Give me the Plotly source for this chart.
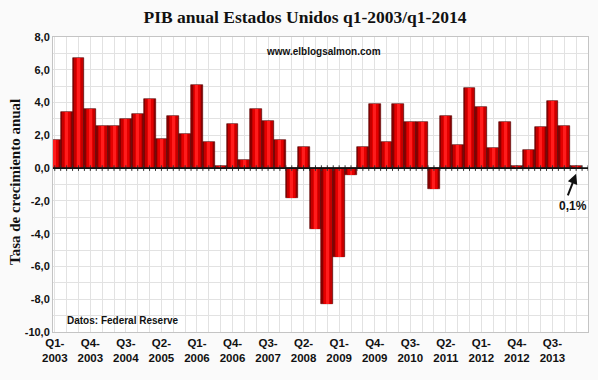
import plotly.graph_objects as go

quarters = [f"Q{q}-{y}" for y in range(2003, 2015) for q in range(1, 5)][:45]
gdp = [1.7, 3.4, 6.7, 3.6, 2.6, 2.6, 3.0, 3.3, 4.2, 1.8, 3.2, 2.1,
       5.1, 1.6, 0.1, 2.7, 0.5, 3.6, 2.9, 1.7, -1.8, 1.3, -3.7, -8.3,
       -5.4, -0.4, 1.3, 3.9, 1.6, 3.9, 2.8, 2.8, -1.3, 3.2, 1.4, 4.9,
       3.7, 1.2, 2.8, 0.1, 1.1, 2.5, 4.1, 2.6, 0.1]
label_idx = list(range(0, 45, 3))
tick_text = ["<b>" + quarters[i].replace("-", "-<br>") + "</b>" for i in label_idx]
y_ticks = list(range(-10, 9, 2))
y_text = [f"<b>{v:.1f}</b>".replace(".", ",") for v in y_ticks]

x = list(range(len(gdp)))

W, H = 598, 380
ML, MR, MT, MB = 53, 10, 37, 48

fig = go.Figure()
# small tick marks along zero axis
half = [i / 2 - 0.5 for i in range(0, 2 * len(gdp) + 2)]
fig.add_trace(go.Scatter(x=half, y=[0] * len(half), mode="markers",
                         marker=dict(symbol="line-ns", size=4,
                                     line=dict(color="#333", width=1)),
                         hoverinfo="skip", showlegend=False))
# layered bars to simulate cylinder gradient
for w, col, lc, lw in [(1.0, "#8a0000", "#5a0000", 0.6),
                       (0.75, "#c40000", None, 0),
                       (0.5, "#e40000", None, 0),
                       (0.25, "#ff1c1c", None, 0)]:
    fig.add_trace(go.Bar(x=x, y=gdp, width=w, marker_color=col,
                         marker_line=dict(color=lc or col, width=lw),
                         showlegend=False, hoverinfo="skip"))

fig.add_shape(type="line", xref="paper", x0=0, x1=1, y0=0, y1=0,
              line=dict(color="#111", width=1.8), layer="above")

fig.add_annotation(text="<b>www.elblogsalmon.com</b>", x=0.505, y=0.95,
                   xref="paper", yref="paper", showarrow=False,
                   font=dict(family="Liberation Sans", size=10, color="#111"),
                   xanchor="center", yanchor="middle")
fig.add_annotation(text="<b>Datos: Federal Reserve</b>", x=0.022, y=0.04,
                   xref="paper", yref="paper", showarrow=False,
                   font=dict(family="Liberation Sans", size=10, color="#111"),
                   xanchor="left", yanchor="middle")
fig.add_annotation(text="", x=44.0, y=-0.35, ax=43.25, ay=-1.75,
                   xref="x", yref="y", axref="x", ayref="y",
                   showarrow=True, arrowhead=2, arrowsize=1, arrowwidth=2,
                   arrowcolor="#111")
fig.add_annotation(text="<b>0,1%</b>", x=43.7, y=-2.3, xref="x", yref="y",
                   showarrow=False,
                   font=dict(family="Liberation Sans", size=12, color="#111"))
fig.add_annotation(text="<b>Tasa de crecimiento anual</b>",
                   x=(15 - ML) / (W - ML - MR), y=1 - (182 - MT) / (H - MT - MB),
                   xref="paper", yref="paper", showarrow=False, textangle=-90,
                   xanchor="center", yanchor="middle",
                   font=dict(family="Liberation Serif", size=15, color="#111"))

fig.update_layout(
    width=W, height=H,
    margin=dict(l=ML, r=MR, t=MT, b=MB, autoexpand=False),
    paper_bgcolor="#fafafa", plot_bgcolor="#ffffff",
    barmode="overlay", bargap=0,
    title=dict(text="<b>PIB anual Estados Unidos q1-2003/q1-2014</b>",
               x=0.51, xanchor="center", y=0.955, yanchor="middle",
               font=dict(family="Liberation Serif", size=17.5, color="#111")),
    xaxis=dict(range=[-0.15, 45.0], tickmode="array", tickvals=label_idx,
               ticktext=tick_text, showgrid=True, gridcolor="#e2e2e2",
               minor=dict(dtick=1, tick0=0, showgrid=True, gridcolor="#e2e2e2"),
               showline=True, linecolor="#c4c4c4", mirror=True, automargin=False,
               tickfont=dict(family="Liberation Sans", size=11.5, color="#111"),
               ticks="", zeroline=False),
    yaxis=dict(range=[-10, 8], tickmode="array", tickvals=y_ticks, ticktext=y_text,
               showgrid=True, gridcolor="#e2e2e2",
               minor=dict(dtick=1, tick0=0, showgrid=True, gridcolor="#e2e2e2"),
               showline=True, linecolor="#c4c4c4", mirror=True, automargin=False,
               tickfont=dict(family="Liberation Sans", size=11, color="#111"),
               zeroline=False, ticks=""),
)

fig.write_html("out.html", config={"displayModeBar": False},
               post_script="document.body.style.margin='0';"
                           "document.body.style.background='#fafafa';")
